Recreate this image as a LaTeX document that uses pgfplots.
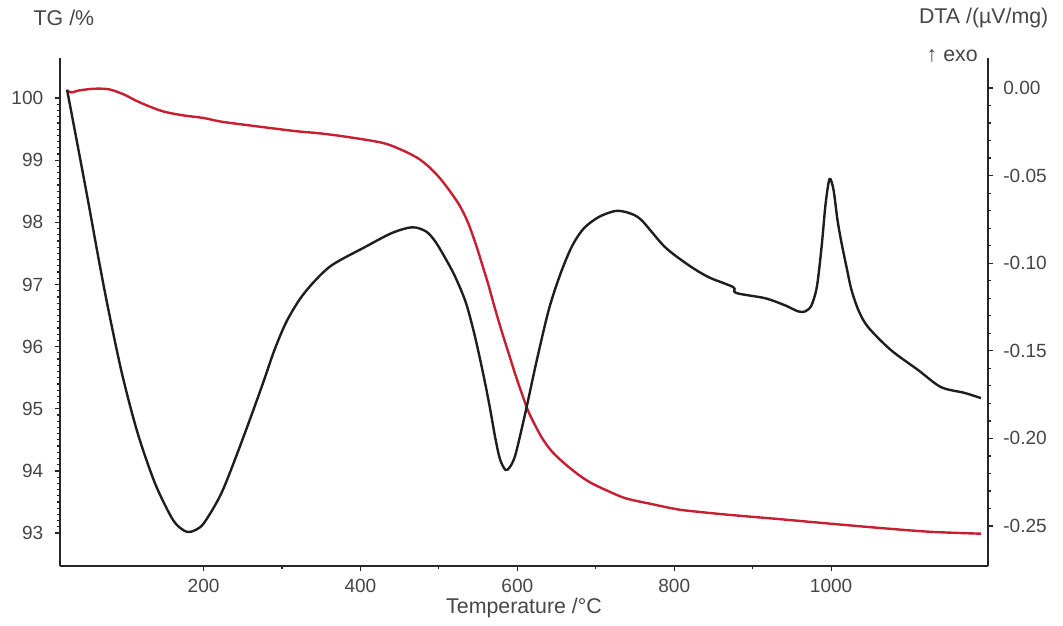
\documentclass[border=0pt]{standalone}
\usepackage{fontspec}
\setmainfont{Liberation Sans}
\usepackage{pgfplots}
\pgfplotsset{compat=1.18}

\definecolor{tgred}{RGB}{200,30,50}
\definecolor{dtablack}{RGB}{30,30,30}
\definecolor{labgray}{RGB}{70,70,70}

\pgfplotsset{
  tgaxis/.style={
    scale only axis,
    width=696pt, height=381pt,
    at={(0,0)}, anchor=south west,
    xmin=17, xmax=1200,
    axis line style={-, line width=1.2pt, black!85},
    tick style={line width=0.9pt, black!85},
    tick align=outside,
    major tick length=4pt,
    minor tick length=2.5pt,
    ticklabel style={font=\fontsize{14.3}{16}\selectfont, text=labgray},
    /pgf/number format/assume math mode=true,
    /pgf/number format/1000 sep={},
  },
}

\begin{document}
\begin{tikzpicture}
\useasboundingbox (-45pt,-44.25pt) rectangle (752.25pt,424.5pt);

% TG (left axis)
\begin{axis}[
  tgaxis,
  axis x line*=bottom,
  axis y line*=left,
  ymin=92.47, ymax=100.645,
  xtick={200,400,600,800,1000},
  minor x tick num=1,
  ytick={93,94,95,96,97,98,99,100},
  minor y tick num=9,
  xticklabel style={yshift=-2pt},
  yticklabel style={xshift=-5pt},
  xlabel={Temperature /°C},
  xlabel style={font=\fontsize{16}{18}\selectfont, text=labgray, at={(axis description cs:0.5,-0.083)}, anchor=center},
]
\addplot[tgred, line width=1.8pt, smooth, tension=0.5] coordinates {
(26,100.12) (32,100.09) (40,100.12) (60,100.15) (80,100.14) (100,100.05)
(112,99.97) (130,99.87) (150,99.78) (175,99.72) (200,99.68) (223,99.62)
(265,99.55) (316,99.47) (350,99.43) (386,99.37) (428,99.28) (450,99.18)
(471,99.05) (485,98.92) (500,98.73) (513,98.52) (526,98.28) (537,98.0)
(547,97.65) (555,97.33) (563,97.0) (570,96.68) (580,96.25) (590,95.85)
(598,95.53) (607,95.2) (615,94.93) (631,94.54) (645,94.3) (662,94.1) (680,93.92)
(695,93.8) (715,93.68) (738,93.56) (770,93.47) (805,93.38) (840,93.33)
(873,93.29) (929,93.23) (1000,93.15) (1064,93.08) (1127,93.02) (1191,92.99)
};
\end{axis}

% DTA (right axis)
\begin{axis}[
  tgaxis,
  axis x line=none,
  axis y line*=right,
  ymin=-0.2728, ymax=0.0171,
  ytick={-0.25,-0.20,-0.15,-0.10,-0.05,0},
  minor y tick num=4,
  yticklabel style={xshift=4pt, /pgf/number format/.cd, fixed, fixed zerofill, precision=2},
]
\addplot[dtablack, line width=1.8pt, smooth, tension=0.5] coordinates {
(26,-0.001) (40,-0.034) (53,-0.065) (66,-0.097) (78,-0.125) (96,-0.163)
(116,-0.197) (138,-0.2255) (159,-0.245) (170,-0.251) (180,-0.2534) (190,-0.2522) (201,-0.248) (223,-0.231)
(248,-0.2026) (274,-0.1707) (290,-0.150) (305,-0.134) (322,-0.121) (340,-0.111) (364,-0.101)
(407,-0.0905) (440,-0.0828) (466,-0.0795) (484,-0.082) (496,-0.088) (508,-0.097) (520,-0.107)
(534,-0.122) (545,-0.140) (555,-0.160) (564,-0.180) (572,-0.200) (578,-0.212) (585,-0.218) (591,-0.216)
(598,-0.2086) (611,-0.1838) (624,-0.157) (640,-0.1267) (655,-0.106) (670,-0.090) (685,-0.080)
(704,-0.0736) (725,-0.0702) (742,-0.0713) (758,-0.0753) (788,-0.0907) (818,-0.101)
(844,-0.108) (875,-0.1136) (879,-0.117) (916,-0.120) (941,-0.124) (958,-0.1275) (967,-0.1275)
(975,-0.124) (982,-0.113) (988,-0.090) (993,-0.066) (998,-0.052) (1003,-0.058) (1008,-0.075) (1013,-0.0878)
(1020,-0.103) (1026,-0.1153) (1035,-0.127) (1047,-0.1364) (1076,-0.1495) (1111,-0.161) (1140,-0.1707)
(1170,-0.174) (1191,-0.177)
};
\end{axis}

\node[anchor=west, font=\fontsize{16}{18}\selectfont, text=labgray] at (-23.25pt,411pt) {TG /\%};
\node[anchor=east, font=\fontsize{16}{18}\selectfont, text=labgray] at (744.75pt,411pt) {DTA /(µV/mg)};
\node[anchor=west, font=\fontsize{16}{18}\selectfont, text=labgray] at (646.5pt,382.5pt) {↑ exo};
\end{tikzpicture}
\end{document}
